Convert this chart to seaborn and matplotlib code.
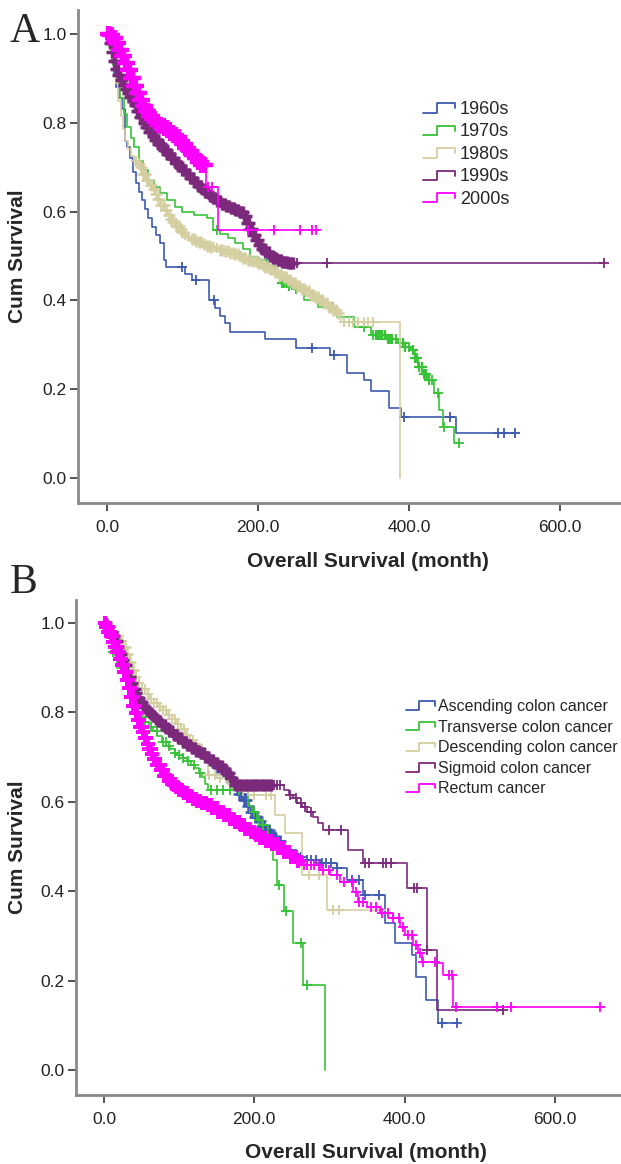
import numpy as np
import matplotlib
matplotlib.use("Agg")
import matplotlib.pyplot as plt
import seaborn as sns
from matplotlib.lines import Line2D
from matplotlib.legend_handler import HandlerBase

sns.set_style("white")
plt.rcParams["font.family"] = ["Liberation Sans", "DejaVu Sans"]

# ---------------- Panel A: decade of diagnosis ----------------
dec_labels = ["1960s", "1970s", "1980s", "1990s", "2000s"]

t_1960 = [0, 3, 6, 9, 12, 16, 20, 24, 27, 30, 34, 38, 42, 46, 50, 55, 60, 65, 70, 75, 78,
          104, 112, 135, 143, 150, 156, 163, 209, 251, 295, 318, 341, 350, 373, 389, 463]
s_1960 = [1.0, 0.97, 0.94, 0.91, 0.88, 0.855, 0.83, 0.76, 0.745, 0.72, 0.69, 0.665, 0.645,
          0.625, 0.605, 0.585, 0.565, 0.548, 0.53, 0.49, 0.475, 0.46, 0.446, 0.40, 0.383,
          0.365, 0.35, 0.329, 0.313, 0.293, 0.277, 0.237, 0.221, 0.196, 0.158, 0.137, 0.101]
c_1960 = [99, 118, 142, 271, 301, 393, 454, 518, 526, 541]
end_1960 = 542

t_1970 = [0, 4, 8, 12, 17, 22, 27, 32, 36, 42, 48, 55, 62, 70, 80, 90, 100, 115, 133, 141,
          150, 160, 170, 180, 190, 200, 212, 222, 232, 240, 245, 261, 280, 305, 327, 350, 370,
          385, 395, 403, 408, 412, 418, 425, 433, 440, 445, 460]
s_1970 = [1.0, 0.97, 0.93, 0.89, 0.855, 0.82, 0.79, 0.765, 0.745, 0.715, 0.694, 0.67, 0.655,
          0.642, 0.625, 0.61, 0.60, 0.592, 0.586, 0.558, 0.55, 0.54, 0.529, 0.515, 0.498, 0.49,
          0.478, 0.462, 0.44, 0.432, 0.425, 0.40, 0.385, 0.363, 0.34, 0.322, 0.312, 0.304,
          0.295, 0.288, 0.27, 0.25, 0.235, 0.221, 0.191, 0.153, 0.115, 0.079]
c_1970 = [146, 232, 235, 238, 241, 250, 300, 340, 352, 356, 359, 362, 365, 368, 372, 375, 378,
          383, 388, 392, 395, 400, 405, 408, 411, 414, 417, 420, 423, 426, 430, 438, 446, 467]
end_1970 = 467

t_1980 = [0, 3, 6, 9, 12, 15, 18, 21, 24, 28, 32, 36, 40, 44, 48, 52, 56, 60, 64, 68, 72, 76,
          80, 84, 88, 92, 96, 100, 104, 108, 112, 116, 120, 126, 132, 138, 144, 150, 156, 162,
          168, 174, 180, 186, 192, 198, 204, 210, 216, 222, 228, 234, 240, 246, 252, 258, 264,
          270, 276, 282, 288, 294, 300, 305, 310, 388]
s_1980 = [1.0, 0.97, 0.945, 0.92, 0.89, 0.85, 0.815, 0.785, 0.76, 0.74, 0.725, 0.715, 0.708,
          0.70, 0.685, 0.67, 0.66, 0.65, 0.64, 0.628, 0.615, 0.603, 0.593, 0.584, 0.576, 0.568,
          0.561, 0.554, 0.548, 0.543, 0.538, 0.534, 0.531, 0.527, 0.523, 0.52, 0.517, 0.514,
          0.511, 0.507, 0.504, 0.50, 0.496, 0.492, 0.488, 0.484, 0.48, 0.476, 0.471, 0.465,
          0.458, 0.452, 0.445, 0.439, 0.433, 0.426, 0.42, 0.413, 0.407, 0.40, 0.393, 0.385,
          0.378, 0.371, 0.351, 0.0]
c_1980 = [38, 42, 45, 48, 50, 53, 55, 58, 62, 65, 68, 72, 75, 78, 82, 85, 88, 92, 95, 98,
          100, 104, 108, 112, 115, 118, 122, 125, 128, 132, 135, 138, 142, 146, 150, 153, 156,
          160, 163, 167, 170, 173, 176, 180, 183, 187, 190, 194, 197, 200, 203, 207, 210, 213,
          216, 219, 222, 225, 228, 231, 234, 237, 240, 243, 246, 249, 252, 255, 258, 261, 264,
          267, 270, 273, 276, 279, 282, 285, 288, 291, 294, 297, 300, 303, 306, 314, 320, 326,
          333, 340, 346, 352]
end_1980 = 388

t_1990 = [0, 3, 6, 9, 12, 15, 18, 21, 24, 27, 30, 33, 36, 40, 44, 48, 52, 56, 60, 64, 68, 72,
          76, 80, 85, 90, 95, 100, 105, 110, 115, 120, 125, 130, 135, 140, 146, 152, 158, 164,
          170, 176, 182, 186, 190, 194, 198, 202, 206, 210, 215, 220, 226, 232, 240]
s_1990 = [1.0, 0.98, 0.96, 0.94, 0.922, 0.908, 0.896, 0.885, 0.875, 0.866, 0.858, 0.85,
          0.84, 0.826, 0.812, 0.80, 0.79, 0.78, 0.77, 0.762, 0.753, 0.745, 0.738, 0.73, 0.72,
          0.71, 0.702, 0.694, 0.685, 0.676, 0.667, 0.658, 0.65, 0.643, 0.636, 0.63, 0.624,
          0.618, 0.613, 0.608, 0.603, 0.598, 0.59, 0.575, 0.56, 0.547, 0.535, 0.524, 0.515,
          0.508, 0.50, 0.495, 0.49, 0.487, 0.484]
c_1990 = [2, 4, 5, 7, 9, 10, 12, 14, 15, 17, 19, 20, 22, 23, 25, 26, 28, 29, 31, 32, 34, 35,
          37, 38, 40, 41, 43, 44, 46, 47, 49, 50, 52, 53, 55, 56, 58, 59, 61, 62, 64, 65, 67,
          68, 70, 71, 73, 74, 76, 77, 79, 80, 82, 83, 85, 86, 88, 89, 91, 92, 94, 95, 97, 98,
          100, 102, 104, 106, 108, 110, 112, 114, 116, 118, 120, 122, 124, 126, 128, 130, 132,
          134, 136, 138, 140, 142, 144, 146, 148, 150, 152, 154, 156, 158, 160, 162, 164, 166,
          168, 170, 172, 174, 176, 178, 180, 182, 184, 186, 188, 190, 192, 194, 196, 198, 200,
          202, 204, 206, 208, 210, 212, 214, 216, 218, 220, 222, 224, 226, 228, 230, 232, 234,
          236, 238, 240, 242, 244, 246, 252, 292, 658]
end_1990 = 658

t_2000 = [0, 4, 8, 12, 16, 20, 24, 28, 32, 36, 40, 44, 48, 52, 56, 60, 64, 68, 72, 76, 80, 84,
          88, 92, 96, 100, 104, 108, 112, 116, 120, 125, 131, 147]
s_2000 = [1.0, 0.997, 0.99, 0.98, 0.965, 0.95, 0.935, 0.918, 0.90, 0.882, 0.866, 0.852,
          0.838, 0.826, 0.816, 0.808, 0.801, 0.796, 0.792, 0.788, 0.783, 0.778, 0.773, 0.767,
          0.76, 0.752, 0.744, 0.736, 0.728, 0.72, 0.712, 0.705, 0.655, 0.558]
c_2000 = [1, 2, 3, 4, 5, 6, 7, 8, 9, 10, 11, 12, 13, 14, 15, 16, 17, 18, 19, 20, 21, 22, 23,
          24, 25, 26, 27, 28, 29, 30, 31, 32, 33, 34, 35, 36, 37, 38, 39, 40, 41, 42, 43, 44,
          45, 46, 47, 48, 49, 50, 51, 52, 53, 54, 55, 56, 57, 58, 59, 60, 61, 62, 63, 64, 65,
          66, 67, 68, 69, 70, 71, 72, 73, 74, 75, 76, 77, 78, 79, 80, 81, 82, 83, 84, 85, 86,
          87, 88, 89, 90, 91, 92, 93, 94, 95, 96, 97, 98, 99, 100, 101, 102, 103, 104, 105,
          106, 107, 108, 109, 110, 111, 112, 113, 114, 115, 116, 117, 118, 119, 120, 121, 122,
          123, 124, 125, 126, 127, 128, 129, 130, 134, 139, 187, 221, 256, 272, 277]
end_2000 = 279

# ---------------- Panel B: tumour site ----------------
site_labels = ["Ascending colon cancer", "Transverse colon cancer", "Descending colon cancer",
               "Sigmoid colon cancer", "Rectum cancer"]

t_asc = [0, 5, 10, 16, 22, 28, 34, 40, 47, 55, 63, 72, 82, 95, 110, 125, 140, 150, 158, 165,
         170, 175, 180, 185, 190, 195, 200, 205, 210, 215, 220, 225, 230, 236, 243, 250, 257,
         265, 288, 310, 324, 345, 374, 387, 410, 415, 428, 444]
s_asc = [1.0, 0.985, 0.965, 0.94, 0.915, 0.89, 0.865, 0.845, 0.825, 0.805, 0.79, 0.775, 0.76,
         0.743, 0.725, 0.708, 0.69, 0.678, 0.668, 0.656, 0.645, 0.632, 0.618, 0.604, 0.59,
         0.577, 0.566, 0.556, 0.546, 0.537, 0.528, 0.52, 0.511, 0.502, 0.492, 0.484, 0.477,
         0.47, 0.463, 0.452, 0.425, 0.391, 0.329, 0.284, 0.257, 0.208, 0.157, 0.105]
c_asc = [150, 153, 156, 159, 162, 165, 168, 171, 174, 177, 180, 183, 186, 189, 192, 195, 198,
         201, 204, 207, 210, 213, 216, 219, 222, 225, 228, 231, 234, 237, 240, 244, 248, 252,
         256, 262, 270, 276, 282, 290, 296, 302, 310, 330, 340, 347, 366, 450, 470]
end_asc = 470

t_trv = [0, 5, 11, 18, 25, 32, 40, 45, 50, 55, 60, 65, 71, 77, 83, 88, 94, 99, 105, 110, 116,
         121, 126, 130, 134, 138, 192, 197, 204, 210, 218, 225, 230, 240, 252, 265, 294]
s_trv = [1.0, 0.975, 0.935, 0.90, 0.87, 0.845, 0.81, 0.80, 0.79, 0.778, 0.768, 0.758, 0.746,
         0.734, 0.725, 0.718, 0.71, 0.705, 0.697, 0.69, 0.683, 0.676, 0.665, 0.655, 0.64,
         0.626, 0.59, 0.577, 0.56, 0.548, 0.51, 0.47, 0.414, 0.356, 0.284, 0.19, 0.0]
c_trv = [12, 45, 50, 55, 62, 70, 78, 82, 86, 95, 100, 105, 112, 120, 128, 142, 150, 159, 168,
         180, 200, 206, 212, 233, 242, 262, 270]
end_trv = 294

t_des = [0, 6, 12, 18, 22, 26, 30, 34, 38, 42, 46, 50, 55, 60, 66, 72, 78, 84, 90, 96, 102,
         108, 114, 120, 126, 132, 138, 150, 165, 185, 200, 228, 241, 263, 297]
s_des = [1.0, 0.99, 0.98, 0.97, 0.96, 0.945, 0.93, 0.912, 0.895, 0.88, 0.866, 0.853, 0.84,
         0.83, 0.82, 0.812, 0.804, 0.795, 0.785, 0.774, 0.762, 0.75, 0.739, 0.728, 0.718,
         0.705, 0.66, 0.652, 0.64, 0.625, 0.615, 0.57, 0.53, 0.436, 0.358]
c_des = [20, 24, 28, 31, 35, 38, 42, 46, 50, 54, 58, 62, 66, 70, 74, 78, 82, 86, 90, 94, 98,
         102, 106, 110, 114, 118, 122, 126, 130, 140, 148, 155, 162, 170, 178, 185, 192, 200,
         215, 222, 273, 286, 305, 313, 368]
end_des = 368

t_sig = [0, 4, 8, 12, 15, 18, 21, 24, 27, 30, 33, 36, 39, 42, 45, 48, 52, 56, 60, 64, 68, 72,
         77, 82, 87, 92, 98, 104, 110, 116, 122, 128, 134, 140, 146, 152, 158, 163, 168, 174,
         240, 246, 252, 257, 263, 270, 278, 285, 292, 325, 345, 403, 430, 443]
s_sig = [1.0, 0.99, 0.98, 0.97, 0.96, 0.945, 0.93, 0.918, 0.905, 0.893, 0.88, 0.866, 0.853,
         0.842, 0.832, 0.822, 0.812, 0.804, 0.798, 0.792, 0.786, 0.78, 0.772, 0.765, 0.758,
         0.75, 0.742, 0.734, 0.727, 0.72, 0.714, 0.708, 0.701, 0.694, 0.687, 0.68, 0.673,
         0.664, 0.654, 0.638, 0.626, 0.615, 0.608, 0.598, 0.588, 0.578, 0.566, 0.552, 0.537,
         0.492, 0.463, 0.407, 0.268, 0.134]
c_sig = [3, 5, 7, 9, 11, 13, 15, 17, 19, 21, 23, 25, 27, 29, 31, 33, 35, 37, 39, 41, 43, 45,
         47, 49, 51, 53, 55, 57, 59, 61, 63, 65, 67, 69, 71, 73, 75, 77, 79, 81, 83, 85, 87,
         89, 91, 93, 95, 97, 99, 101, 103, 105, 107, 109, 111, 113, 115, 117, 119, 121, 123,
         125, 127, 129, 131, 133, 135, 137, 139, 141, 143, 145, 147, 149, 151, 153, 155, 157,
         159, 161, 163, 165, 167, 169, 171, 174, 177, 180, 183, 186, 189, 192, 195, 198, 201,
         204, 207, 210, 213, 216, 219, 222, 226, 230, 234, 248, 255, 262, 268, 276, 300, 315,
         347, 353, 371, 375, 382, 412, 417, 430, 531]
end_sig = 531

t_rec = [0, 3, 6, 9, 12, 15, 18, 21, 24, 27, 30, 33, 36, 39, 42, 45, 48, 51, 54, 57, 60, 63,
         66, 70, 75, 80, 85, 90, 95, 100, 106, 112, 118, 124, 130, 137, 144, 152, 160, 167,
         174, 181, 188, 195, 201, 208, 216, 224, 232, 240, 248, 256, 265, 288, 301, 314, 332,
         338, 350, 367, 385, 394, 401, 411, 418, 423, 443, 451, 465]
s_rec = [1.0, 0.99, 0.98, 0.97, 0.958, 0.946, 0.934, 0.92, 0.905, 0.89, 0.872, 0.855, 0.835,
         0.815, 0.798, 0.782, 0.768, 0.755, 0.742, 0.73, 0.718, 0.706, 0.695, 0.683, 0.67,
         0.658, 0.648, 0.64, 0.633, 0.627, 0.62, 0.613, 0.607, 0.602, 0.597, 0.592, 0.586,
         0.578, 0.57, 0.562, 0.555, 0.547, 0.54, 0.533, 0.526, 0.519, 0.512, 0.505, 0.497,
         0.487, 0.477, 0.468, 0.459, 0.447, 0.436, 0.421, 0.398, 0.376, 0.365, 0.351, 0.34,
         0.32, 0.302, 0.28, 0.262, 0.242, 0.24, 0.212, 0.141]
c_rec = [1, 2, 3, 4, 5, 6, 7, 8, 9, 10, 11, 12, 13, 14, 15, 16, 17, 18, 19, 20, 21, 22, 23,
         24, 25, 26, 27, 28, 29, 30, 31, 32, 33, 34, 35, 36, 37, 38, 39, 40, 41, 42, 43, 44,
         45, 46, 47, 48, 49, 50, 52, 54, 56, 58, 60, 62, 64, 66, 68, 70, 72, 74, 76, 78, 80,
         82, 84, 86, 88, 90, 92, 94, 96, 98, 100, 102, 104, 106, 108, 110, 112, 114, 116, 118,
         120, 122, 124, 126, 128, 130, 132, 134, 136, 138, 140, 142, 144, 146, 148, 150, 152,
         154, 156, 158, 160, 162, 164, 166, 168, 170, 172, 174, 176, 178, 180, 182, 184, 186,
         188, 190, 192, 194, 196, 198, 200, 202, 204, 206, 208, 210, 212, 214, 216, 218, 220,
         222, 224, 226, 228, 230, 232, 234, 236, 238, 240, 242, 244, 246, 249, 252, 255, 258,
         262, 266, 270, 275, 280, 286, 292, 300, 310, 320, 330, 335, 340, 345, 355, 362, 370,
         378, 385, 392, 398, 405, 410, 415, 420, 425, 440, 459, 463, 468, 523, 542, 660]
end_rec = 660

colors = ["#3d5aae", "#38c238", "#d4cea0", "#7b2a7b", "#ff00ff"]
y_ticks = [0.0, 0.2, 0.4, 0.6, 0.8, 1.0]
x_ticks = [0, 200, 400, 600]


class StepHandler(HandlerBase):
    # SPSS-style step icon in the legend
    def create_artists(self, legend, orig_handle, xdescent, ydescent, width, height,
                       fontsize, trans):
        x0, y0 = -xdescent, -ydescent
        xs = [x0, x0 + 0.45 * width, x0 + 0.45 * width, x0 + width, x0 + width]
        ys = [y0 + 0.1 * height, y0 + 0.1 * height, y0 + 0.85 * height,
              y0 + 0.85 * height, y0 + 0.45 * height]
        ln = Line2D(xs, ys, color=orig_handle.get_color(), lw=1.3)
        ln.set_transform(trans)
        return [ln]


def km_curve(ax, t, s, cens, end, color, ms, mew):
    tt = list(t) + [end]
    ss = list(s) + [s[-1]]
    sns.lineplot(x=tt, y=ss, drawstyle="steps-post", color=color, lw=1.2,
                 estimator=None, sort=False, ax=ax)
    ct = np.array(cens, dtype=float)
    idx = np.searchsorted(np.array(t), ct, side="right") - 1
    cs = np.array(s)[idx]
    # crowded censor marks are drawn heavier (they blur into a band in the original)
    gap = np.full(len(ct), np.inf)
    if len(ct) > 1:
        d = np.diff(ct)
        gap[1:] = np.minimum(gap[1:], d)
        gap[:-1] = np.minimum(gap[:-1], d)
    dense = gap <= 3
    ax.plot(ct[~dense], cs[~dense], ls="none", marker="+", ms=7, mew=1.3, color=color)
    ax.plot(ct[dense], cs[dense], ls="none", marker="+", ms=ms, mew=mew, color=color)


def style_axes(ax, xlim, ylim):
    ax.set_xlim(*xlim)
    ax.set_ylim(*ylim)
    ax.set_xticks(x_ticks)
    ax.set_xticklabels([f"{v:.1f}" for v in x_ticks])
    ax.set_yticks(y_ticks)
    ax.set_yticklabels([f"{v:.1f}" for v in y_ticks])
    for side in ["top", "right"]:
        ax.spines[side].set_visible(False)
    for side in ["left", "bottom"]:
        ax.spines[side].set_color("#8a8a8a")
        ax.spines[side].set_linewidth(2.0)
    ax.tick_params(axis="both", direction="out", length=6, width=1.3, color="#444444",
                   labelsize=12.5, labelcolor="#222222", left=True, bottom=True)
    ax.tick_params(axis="y", pad=2)
    ax.tick_params(axis="x", pad=6)
    ax.grid(False)


fig = plt.figure(figsize=(6.21, 11.64), dpi=100)

# Panel A
axA = fig.add_axes([78 / 621, 0.5679, 543 / 621, 0.4235])
curvesA = [(t_1960, s_1960, c_1960, end_1960, 7, 1.3),
           (t_1970, s_1970, c_1970, end_1970, 7, 1.6),
           (t_1980, s_1980, c_1980, end_1980, 8, 1.8),
           (t_1990, s_1990, c_1990, end_1990, 9, 2.5),
           (t_2000, s_2000, c_2000, end_2000, 11, 3.0)]
for (t, s, c, e, ms, mew), col in zip(curvesA, colors):
    km_curve(axA, t, s, c, e, col, ms, mew)
style_axes(axA, (-38.4, 681), (-0.0563, 1.054))
axA.set_ylabel("Cum Survival", fontsize=15, fontweight="bold")
axA.set_xlabel("Overall Survival (month)", fontsize=15, fontweight="bold")
axA.yaxis.set_label_coords(-0.094, 0.5)
axA.xaxis.set_label_coords(0.534, -0.10)
hA = [Line2D([], [], color=c) for c in colors]
axA.legend(hA, dec_labels, handler_map={Line2D: StepHandler()},
           loc="upper left", bbox_to_anchor=(423 / 621, 1 - 101 / 1164),
           bbox_transform=fig.transFigure, frameon=False, fontsize=13,
           handlelength=1.75, handletextpad=0.3, labelspacing=0.3, borderpad=0,
           borderaxespad=0)

# Panel B
axB = fig.add_axes([76 / 621, 0.0593, 545 / 621, 0.4252])
curvesB = [(t_asc, s_asc, c_asc, end_asc, 8, 1.8),
           (t_trv, s_trv, c_trv, end_trv, 7, 1.6),
           (t_des, s_des, c_des, end_des, 8, 1.8),
           (t_sig, s_sig, c_sig, end_sig, 9, 2.5),
           (t_rec, s_rec, c_rec, end_rec, 10, 2.8)]
for (t, s, c, e, ms, mew), col in zip(curvesB, colors):
    km_curve(axB, t, s, c, e, col, ms, mew)
style_axes(axB, (-37.2, 688), (-0.0559, 1.051))
axB.set_ylabel("Cum Survival", fontsize=15, fontweight="bold")
axB.set_xlabel("Overall Survival (month)", fontsize=15, fontweight="bold")
axB.yaxis.set_label_coords(-0.09, 0.5)
axB.xaxis.set_label_coords(0.532, -0.097)
hB = [Line2D([], [], color=c) for c in colors]
axB.legend(hB, site_labels, handler_map={Line2D: StepHandler()},
           loc="upper left", bbox_to_anchor=(406 / 621, 1 - 699 / 1164),
           bbox_transform=fig.transFigure, frameon=False, fontsize=11.5,
           handlelength=1.8, handletextpad=0.2, labelspacing=0.35, borderpad=0,
           borderaxespad=0)

# panel letters
fig.text(10 / 621, 1 - 42 / 1164, "A", fontsize=30, family="Liberation Serif",
         ha="left", va="baseline")
fig.text(10 / 621, 1 - 593 / 1164, "B", fontsize=30, family="Liberation Serif",
         ha="left", va="baseline")

fig.savefig("out.png", dpi=100)
